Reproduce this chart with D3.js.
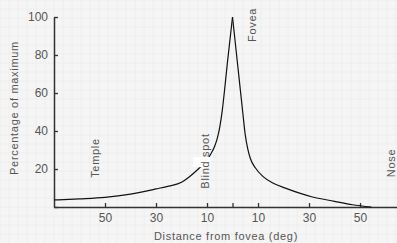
<!DOCTYPE html>
<html>
<head>
<meta charset="utf-8">
<script src="https://cdn.jsdelivr.net/npm/d3@7"></script>
<style>
  body { margin: 0; background: #f5f5f5; }
  svg { display: block; font-family: "Liberation Sans", Arial, sans-serif; }
  .lbl { fill: #555; font-size: 11px; letter-spacing: 0.7px; }
  .tick text { fill: #555; font-size: 12px; }
</style>
</head>
<body>
<svg id="chart" width="397" height="243"></svg>
<script>
// degrees from fovea (temple side negative), percent of max
var leftDeg = [-70, -60, -50, -40, -30, -25, -20, -17, -13, -10, -8.7, -7, -6, -5, -4, -3, -2, 0];
var leftVal = [3.7, 4.3, 5.1, 6.8, 9.5, 11, 13, 15.8, 20.5, 24.5, 27.5, 32, 36, 42, 51, 63, 76, 100];
var rightDeg = [0, 2, 4, 5, 6, 7, 9, 12, 16, 21, 26, 31, 40, 47, 54.5];
var rightVal = [100, 75, 50, 38, 30.5, 25.5, 20.5, 16, 12.5, 9.8, 7.4, 5.4, 3, 1.2, 0];
var xTicks = [-50, -30, -10, 0, 10, 30, 50];
var yTicks = [0, 20, 40, 60, 80, 100];

(function () {
    var svg = d3.select('#chart');
    var width = 397, height = 243;

    // faint paper grid
    var bg = svg.append('g');
    for (var gx = 0; gx < width; gx += 9) {
        bg.append('line').attr('x1', gx).attr('x2', gx).attr('y1', 0).attr('y2', height)
            .attr('stroke', '#eeeeee').attr('stroke-width', 1);
    }
    for (var gy = 0; gy < height; gy += 9) {
        bg.append('line').attr('y1', gy).attr('y2', gy).attr('x1', 0).attr('x2', width)
            .attr('stroke', '#eeeeee').attr('stroke-width', 1);
    }

    var x = d3.scaleLinear().domain([-70, 64.5]).range([54, 397]);
    var y = d3.scaleLinear().domain([0, 100]).range([207, 17]);

    // x axis, ticks pointing up
    var xAxis = svg.append('g')
        .attr('transform', 'translate(0,' + y(0) + ')')
        .call(d3.axisBottom(x).tickValues(xTicks).tickSizeInner(-4).tickSizeOuter(0)
            .tickFormat(function (d) { return d === 0 ? '' : Math.abs(d); }));
    xAxis.select('.domain').attr('stroke', '#333').attr('stroke-width', 1.5);
    xAxis.selectAll('.tick line').attr('stroke', '#333').attr('stroke-width', 1.3);
    xAxis.selectAll('.tick text').attr('y', 6);

    // y axis, ticks pointing right
    var yAxis = svg.append('g')
        .attr('transform', 'translate(' + x(-70) + ',0)')
        .call(d3.axisLeft(y).tickValues(yTicks).tickSizeInner(-4).tickSizeOuter(0)
            .tickFormat(function (d) { return d === 0 ? '' : d; }));
    yAxis.select('.domain').attr('stroke', '#333').attr('stroke-width', 1.5);
    yAxis.selectAll('.tick line').attr('stroke', '#333').attr('stroke-width', 1.3);
    yAxis.selectAll('.tick text').attr('x', -6);

    var line = d3.line()
        .x(function (d) { return x(d[0]); })
        .y(function (d) { return y(d[1]); })
        .curve(d3.curveMonotoneX);

    [d3.zip(leftDeg, leftVal), d3.zip(rightDeg, rightVal)].forEach(function (pts) {
        svg.append('path')
            .datum(pts)
            .attr('d', line)
            .attr('fill', 'none')
            .attr('stroke', '#111')
            .attr('stroke-width', 1.2);
    });

    // blind spot gap
    svg.append('rect')
        .attr('x', x(-15.4)).attr('y', y(26.3))
        .attr('width', x(-8.7) - x(-15.4)).attr('height', y(21) - y(26.3))
        .attr('fill', '#fff');

    function vlabel(text, px, py) {
        svg.append('text').attr('class', 'lbl')
            .attr('transform', 'translate(' + px + ',' + py + ') rotate(-90)')
            .attr('text-anchor', 'middle')
            .text(text);
    }
    vlabel('Temple', 99, 158);
    vlabel('Blind spot', 209, 161);
    vlabel('Fovea', 256, 25);
    vlabel('Nose', 395, 163);
    vlabel('Percentage of maximum', 18, 108);

    svg.append('text').attr('class', 'lbl')
        .attr('x', 226).attr('y', 240)
        .attr('text-anchor', 'middle')
        .text('Distance from fovea (deg)');
})();
</script>
</body>
</html>
